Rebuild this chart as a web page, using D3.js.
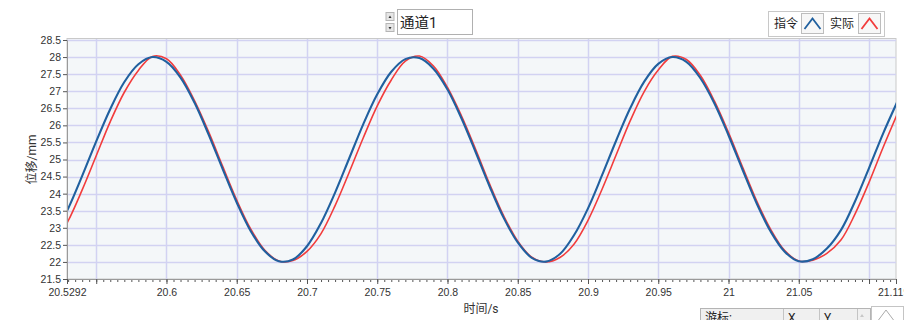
<!DOCTYPE html>
<html>
<head>
<meta charset="utf-8">
<script src="https://cdn.jsdelivr.net/npm/d3@7"></script>
<style>
  body { margin: 0; background: #fff; overflow: hidden; }
  svg { display: block; font-family: Roboto, "Noto Sans CJK SC", sans-serif; }
</style>
</head>
<body>
<div id="chart"></div>
<script>
// time axis samples (s)
const times = [20.52, 20.53, 20.54, 20.55, 20.56, 20.57, 20.58, 20.59, 20.60, 20.61,
  20.62, 20.63, 20.64, 20.65, 20.66, 20.67, 20.68, 20.69, 20.70, 20.71,
  20.72, 20.73, 20.74, 20.75, 20.76, 20.77, 20.78, 20.79, 20.80, 20.81,
  20.82, 20.83, 20.84, 20.85, 20.86, 20.87, 20.88, 20.89, 20.90, 20.91,
  20.92, 20.93, 20.94, 20.95, 20.96, 20.97, 20.98, 20.99, 21.00, 21.01,
  21.02, 21.03, 21.04, 21.05, 21.06, 21.07, 21.08, 21.09, 21.10, 21.11, 21.12];

// 指令 (command), mm
const command = [22.76, 23.56, 24.52, 25.53, 26.48, 27.27, 27.79, 28.00, 27.86, 27.40,
  26.66, 25.73, 24.72, 23.74, 22.90, 22.31, 22.02, 22.07, 22.46, 23.14,
  24.03, 25.03, 26.03, 26.91, 27.57, 27.94, 27.97, 27.66, 27.05, 26.20,
  25.22, 24.21, 23.29, 22.57, 22.12, 22.01, 22.23, 22.78, 23.57, 24.54,
  25.55, 26.50, 27.28, 27.80, 28.00, 27.86, 27.38, 26.64, 25.71, 24.70,
  23.72, 22.89, 22.30, 22.02, 22.08, 22.39, 22.93, 23.77, 24.75, 25.76, 26.68];

// 实际 (actual), mm
const actual = [22.51, 23.20, 24.11, 25.11, 26.11, 26.97, 27.61, 28.02, 27.95, 27.47,
  26.72, 25.81, 24.80, 23.81, 22.96, 22.34, 22.03, 22.04, 22.31, 22.83,
  23.65, 24.62, 25.63, 26.57, 27.33, 27.88, 28.03, 27.74, 27.11, 26.27,
  25.30, 24.28, 23.35, 22.61, 22.14, 22.00, 22.13, 22.52, 23.22, 24.13,
  25.13, 26.13, 26.99, 27.62, 28.02, 27.93, 27.46, 26.71, 25.79, 24.78,
  23.79, 22.95, 22.33, 22.03, 22.05, 22.25, 22.64, 23.40, 24.33, 25.35, 26.32];

const xDomain = [20.5292, 21.1192];
const xMajor = [20.55, 20.6, 20.65, 20.7, 20.75, 20.8, 20.85, 20.9, 20.95, 21, 21.05, 21.1];
const xLabels = [20.5292, 20.6, 20.65, 20.7, 20.75, 20.8, 20.85, 20.9, 20.95, 21, 21.05, 21.1192];
const yTicks = [21.5, 22, 22.5, 23, 23.5, 24, 24.5, 25, 25.5, 26, 26.5, 27, 27.5, 28, 28.5];

const W = 904, H = 320;
const plot = { left: 67, right: 896, top: 40, bottom: 279 };

const svg = d3.select("#chart").append("svg")
  .attr("width", W)
  .attr("height", H);

const x = d3.scaleLinear().domain(xDomain).range([plot.left, plot.right]);
const y = d3.scaleLinear().domain([21.5, 28.5]).range([plot.bottom, plot.top]);

// plot background
svg.append("rect")
  .attr("x", plot.left).attr("y", plot.top - 1.5)
  .attr("width", plot.right - plot.left).attr("height", plot.bottom - plot.top + 1.5)
  .attr("fill", "#f4f7f9")
  .attr("stroke", "#c9c9c9");

// grid
svg.append("g").selectAll("line")
  .data(xMajor)
  .enter().append("line")
  .attr("x1", d => Math.round(x(d)) + 0.5).attr("x2", d => Math.round(x(d)) + 0.5)
  .attr("y1", plot.top - 1).attr("y2", plot.bottom)
  .attr("stroke", "#d2d2f2").attr("stroke-width", 1.5);

svg.append("g").selectAll("line")
  .data(yTicks.slice(1))
  .enter().append("line")
  .attr("x1", plot.left).attr("x2", plot.right)
  .attr("y1", d => Math.round(y(d)) + 0.5).attr("y2", d => Math.round(y(d)) + 0.5)
  .attr("stroke", "#d2d2f2").attr("stroke-width", 1.5);

// axes
const yAxis = svg.append("g")
  .attr("transform", `translate(${plot.left},0)`)
  .call(d3.axisLeft(y).tickValues(yTicks).tickSize(4).tickPadding(2).tickFormat(d3.format("")));

const xMinor = d3.range(20.53, 21.1195, 0.005).map(d => +d.toFixed(3));
svg.append("g")
  .attr("transform", `translate(0,${plot.bottom})`)
  .call(d3.axisBottom(x).tickValues(xMinor).tickSize(3).tickFormat(""))
  .call(g => g.select(".domain").remove());

const xAxis = svg.append("g")
  .attr("transform", `translate(0,${plot.bottom})`)
  .call(d3.axisBottom(x).tickValues(xLabels.concat([20.55, 21.1])).tickSize(5).tickPadding(5)
    .tickFormat(d => (d === 20.55 || d === 21.1) ? "" : d3.format("")(d)));

[yAxis, xAxis].forEach(g => {
  g.select(".domain").attr("stroke", "#9a9a9a");
  g.selectAll(".tick line").attr("stroke", "#555");
  g.selectAll(".tick text").attr("fill", "#333").style("font-size", "10.5px");
});
svg.selectAll(".tick line").attr("stroke", "#555");

// axis titles
svg.append("text")
  .attr("x", 481).attr("y", 313)
  .attr("text-anchor", "middle")
  .style("font-size", "12px").attr("fill", "#333")
  .text("时间/s");

svg.append("text")
  .attr("transform", `translate(36,${(plot.top + plot.bottom) / 2}) rotate(-90)`)
  .attr("text-anchor", "middle")
  .style("font-size", "12px").attr("fill", "#333")
  .text("位移/mm");

// curves
svg.append("clipPath").attr("id", "clip")
  .append("rect")
  .attr("x", plot.left + 1).attr("y", plot.top - 2)
  .attr("width", plot.right - plot.left - 1).attr("height", plot.bottom - plot.top + 2);

const line = d3.line()
  .x((d, i) => x(times[i]))
  .y(d => y(d))
  .curve(d3.curveCatmullRom.alpha(0.5));

const curves = svg.append("g").attr("clip-path", "url(#clip)");
curves.append("path").datum(actual)
  .attr("d", line).attr("fill", "none")
  .attr("stroke", "#f23c3c").attr("stroke-width", 1.6);
curves.append("path").datum(command)
  .attr("d", line).attr("fill", "none")
  .attr("stroke", "#20609f").attr("stroke-width", 2.1);

// channel selector
const sel = svg.append("g");
[[386, 12.5, "M388.5,18 L390,15.5 L391.5,18 Z"], [386, 23.5, "M388.5,27 L390,29.5 L391.5,27 Z"]].forEach(b => {
  sel.append("rect").attr("x", b[0]).attr("y", b[1]).attr("width", 8).attr("height", 8)
    .attr("fill", "#e6e6e6").attr("stroke", "#b5b5b5");
  sel.append("path").attr("d", b[2]).attr("fill", "#333");
});
sel.append("rect").attr("x", 397.5).attr("y", 9.5).attr("width", 75).attr("height", 25)
  .attr("fill", "#fff").attr("stroke", "#b0b0b0");
sel.append("text").attr("x", 400).attr("y", 28)
  .style("font-size", "14.5px").attr("fill", "#222")
  .text("通道1");

// legend
const legend = svg.append("g");
legend.append("rect").attr("x", 768.5).attr("y", 11.5).attr("width", 116).attr("height", 25)
  .attr("fill", "#fff").attr("stroke", "#c8c8c8");
const legendItems = [
  { name: "指令", color: "#20609f", tx: 774, bx: 801 },
  { name: "实际", color: "#f23c3c", tx: 830, bx: 858 }
];
legendItems.forEach(d => {
  legend.append("text").attr("x", d.tx).attr("y", 28)
    .style("font-size", "12px").attr("fill", "#222").text(d.name);
  legend.append("rect").attr("x", d.bx + 0.5).attr("y", 13.5).attr("width", 22).attr("height", 20)
    .attr("fill", "#f7f7f7").attr("stroke", "#bdbdbd");
  legend.append("polyline")
    .attr("points", `${d.bx + 3.5},29 ${d.bx + 11.5},18.5 ${d.bx + 19.5},29`)
    .attr("fill", "none").attr("stroke", d.color).attr("stroke-width", 1.8);
});

// cursor table (partly outside the window)
const cur = svg.append("g");
cur.append("rect").attr("x", 700.5).attr("y", 308.5).attr("width", 170).attr("height", 20)
  .attr("fill", "#f0f0f0").attr("stroke", "#b4b4b4");
[783.5, 819.5, 857.5].forEach(v => {
  cur.append("line").attr("x1", v).attr("x2", v).attr("y1", 309).attr("y2", 330)
    .attr("stroke", "#c4c4c4");
});
cur.append("text").attr("x", 705).attr("y", 322).style("font-size", "12px").attr("fill", "#222").text("游标:");
cur.append("text").attr("x", 788).attr("y", 322).style("font-size", "12px").attr("fill", "#222").text("X");
cur.append("text").attr("x", 824).attr("y", 322).style("font-size", "12px").attr("fill", "#222").text("Y");
cur.append("path").attr("d", "M860,317 L862,314 L864,317 Z").attr("fill", "#c8c8c8");
cur.append("rect").attr("x", 871.5).attr("y", 306.5).attr("width", 32).attr("height", 20)
  .attr("fill", "#fff").attr("stroke", "#c4c4c4");
cur.append("path").attr("d", "M877,322 L886,310 L895,322")
  .attr("fill", "none").attr("stroke", "#aaa");
</script>
</body>
</html>
